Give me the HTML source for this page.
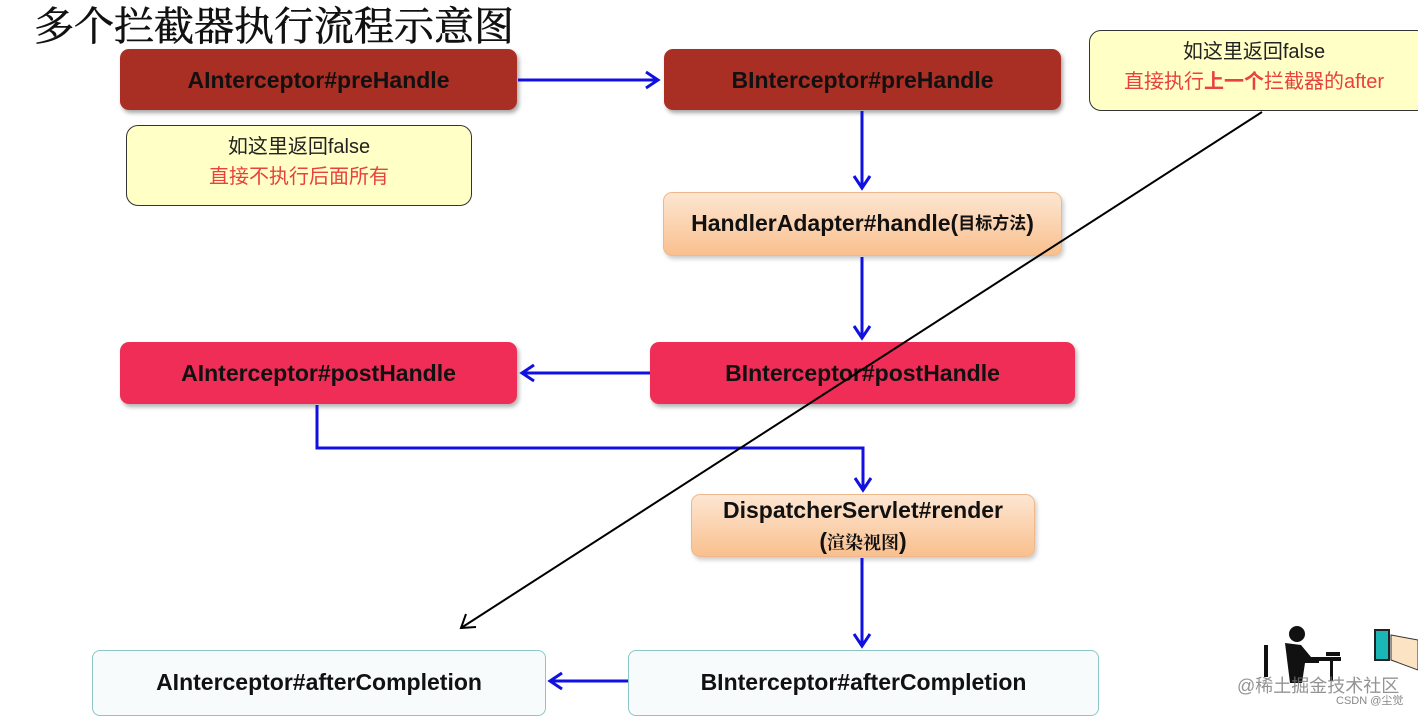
<!DOCTYPE html>
<html><head><meta charset="utf-8"><style>
body{margin:0;width:1418px;height:713px;background:#fff;position:relative;overflow:hidden;font-family:"Liberation Sans","Noto Sans CJK SC",sans-serif}
.b{position:absolute;box-sizing:border-box;border-radius:9px;display:flex;align-items:center;justify-content:center;font-weight:bold;font-size:23px;color:#111;text-align:center;line-height:1.3}
.red{background:#a92e24;box-shadow:2px 3px 4px rgba(0,0,0,.35)}
.pink{background:#ef2d57;box-shadow:2px 3px 4px rgba(0,0,0,.3)}
.or{background:linear-gradient(#fde6d2,#f9c08e);border:1px solid #f0b88a;box-shadow:2px 3px 4px rgba(0,0,0,.2)}
.wh{background:#f7fbfb;border:1px solid #8cc7c7;border-radius:8px}
.note{position:absolute;box-sizing:border-box;background:#ffffc6;border:1.5px solid #333;border-radius:12px;text-align:center;font-size:20px;line-height:30px;color:#222}
.note .r{color:#e8413e}
</style></head><body>
<div style="position:absolute;left:34px;top:-5px;font-family:'Noto Serif CJK SC',serif;font-size:40px;color:#111;letter-spacing:0px;white-space:nowrap;-webkit-text-stroke:0.6px #111">多个拦截器执行流程示意图</div>

<div class="b red" style="left:120px;top:49px;width:397px;height:61px;padding-top:2px">AInterceptor#preHandle</div>
<div class="b red" style="left:664px;top:49px;width:397px;height:61px;padding-top:2px">BInterceptor#preHandle</div>
<div class="note" style="left:126px;top:125px;width:346px;height:81px;padding-top:6px">如这里返回false<br><span class="r">直接不执行后面所有</span></div>
<div class="note" style="left:1089px;top:30px;width:340px;height:81px;padding-top:6px;padding-right:10px">如这里返回false<br><span class="r">直接执行<b>上一个</b>拦截器的after</span></div>
<div class="b or" style="left:663px;top:192px;width:399px;height:64px;white-space:nowrap">HandlerAdapter#handle(<span style="font-size:17px">目标方法</span>)</div>
<div class="b pink" style="left:120px;top:342px;width:397px;height:62px;padding-top:2px">AInterceptor#postHandle</div>
<div class="b pink" style="left:650px;top:342px;width:425px;height:62px;padding-top:2px">BInterceptor#postHandle</div>
<div class="b or" style="left:691px;top:494px;width:344px;height:63px;display:block;line-height:31px;padding-top:0;white-space:nowrap">DispatcherServlet#render<br>(<span style="font-size:18px;font-family:'Noto Serif CJK SC',serif">渲染视图</span>)</div>
<div class="b wh" style="left:92px;top:650px;width:454px;height:66px">AInterceptor#afterCompletion</div>
<div class="b wh" style="left:628px;top:650px;width:471px;height:66px">BInterceptor#afterCompletion</div>

<svg width="1418" height="713" style="position:absolute;left:0;top:0" fill="none">
<g stroke="#1010e0" stroke-width="3">
<line x1="518" y1="80" x2="658" y2="80"/><polyline points="646,72 658,80 646,88"/>
<line x1="862" y1="111" x2="862" y2="188"/><polyline points="854,176 862,188 870,176"/>
<line x1="862" y1="257" x2="862" y2="338"/><polyline points="854,326 862,338 870,326"/>
<line x1="650" y1="373" x2="522" y2="373"/><polyline points="534,365 522,373 534,381"/>
<polyline points="317,405 317,448 863,448 863,490"/><polyline points="855,478 863,490 871,478"/>
<line x1="862" y1="558" x2="862" y2="646"/><polyline points="854,634 862,646 870,634"/>
<line x1="628" y1="681" x2="550" y2="681"/><polyline points="562,673 550,681 562,689"/>
</g>
<g stroke="#000" stroke-width="2">
<line x1="1262" y1="112" x2="461" y2="628"/><polyline points="466,614 461,628 476,627"/>
</g>
<g fill="#111">
<circle cx="1297" cy="634" r="8"/>
<path d="M1285 643 l16 2 l10 12 l8 2 l0 4 l-14 0 l-3 20 l-12 0 z"/>
<rect x="1264" y="645" width="4" height="32"/><rect x="1305" y="657" width="36" height="4"/>
<rect x="1330" y="661" width="3" height="20"/><rect x="1326" y="652" width="14" height="4"/>
</g>
<rect x="1375" y="630" width="14" height="30" fill="#1bb7b7" stroke="#222" stroke-width="2"/>
<path d="M1391 635 l27 5 l0 30 l-27 -10z" fill="#fbe3c3" stroke="#333"/>
</svg>
<div style="position:absolute;left:1237px;top:672px;font-size:18px;color:rgba(120,120,120,.8)">@稀土掘金技术社区</div>
<div style="position:absolute;left:1336px;top:692px;font-size:11px;color:#888">CSDN @尘觉</div>
</body></html>
